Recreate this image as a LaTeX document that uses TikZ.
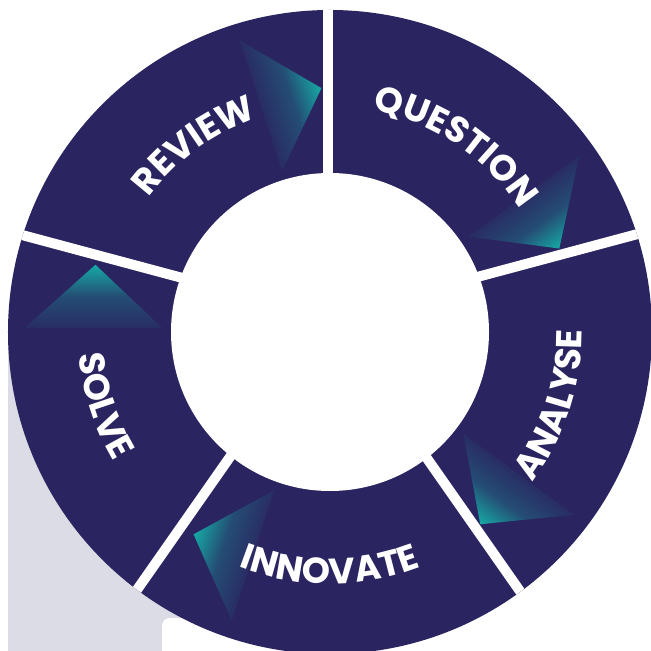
\documentclass[tikz,border=0pt]{standalone}
\usepackage{fontspec}
\newfontfamily\stagefont{Poppins}
\usetikzlibrary{decorations.text}

\definecolor{ringblue}{HTML}{2A2560}
\definecolor{glowteal}{HTML}{16AAA4}
\definecolor{cardgrey}{HTML}{DCDCE6}

% teal at the tip, dying out into the ring colour
\pgfdeclareverticalshading{glow}{100bp}{color(0bp)=(ringblue!94!glowteal); color(25bp)=(ringblue!94!glowteal);
  color(50bp)=(ringblue!70!glowteal); color(75bp)=(glowteal); color(100bp)=(glowteal)}

\tikzset{
  gap/.style={white, line width=0.2cm},
  stagetext/.style={decorate, decoration={text along path,
      text={|\stagefont\bfseries\fontsize{20.5}{20.5}\selectfont|#1},
      text align=center, text color=white}}
}

\begin{document}
\begin{tikzpicture}[x=0.02cm, y=0.02cm]
	\useasboundingbox (-330,-319) rectangle (320,332);
	% grey panel and white card behind the ring
	\fill[cardgrey] (-322,-340) rectangle (0,-8);
	\fill[white, rounded corners=0.16cm] (-168,-340) rectangle (330,-286);
	% ring
	\fill[ringblue] (0,0) circle[radius=322];
	\fill[white] (0,0) circle[radius=159];
	% glow triangles: drawn for the left stage, then turned round the ring
	\foreach \k [evaluate=\k as \ang using -72*(\k+1)] in {0,...,4}
		\shade[shading=glow, transform canvas={rotate around={\ang:(0,0)}}]
			(164:244) -- (179.2:305) -- (178.6:168) -- cycle;
	% white gaps between the stages
	\begin{scope}
		\clip (0,0) circle[radius=322];
		\coordinate (hub) at (-2,15);
		\foreach \a in {90,15,-55,-125,165}
			\draw[gap] (hub) -- ++(\a:360);
	\end{scope}
	% stage names
	\path[stagetext=REVIEW] (166:226) arc[start angle=166, end angle=86, radius=226];
	\path[stagetext=QUESTION] (96:226) arc[start angle=96, end angle=16, radius=226];
	\path[stagetext=ANALYSE] (-58:252) arc[start angle=-58, end angle=22, radius=252];
	\path[stagetext=INNOVATE] (-130:252) arc[start angle=-130, end angle=-50, radius=252];
	\path[stagetext=SOLVE] (158:252) arc[start angle=158, end angle=238, radius=252];
\end{tikzpicture}
\end{document}
